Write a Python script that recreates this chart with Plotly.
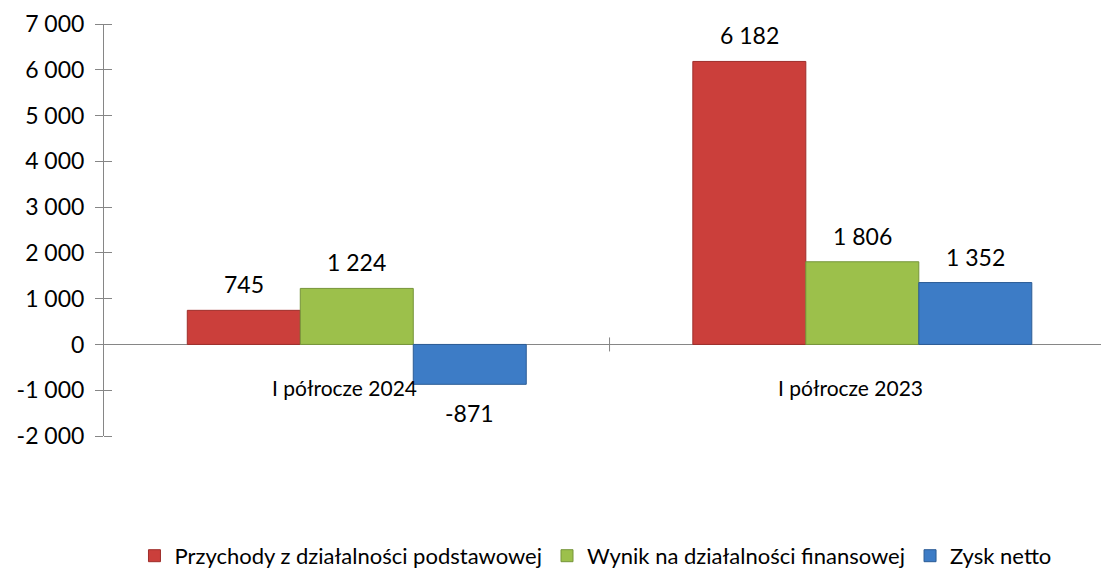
import plotly.graph_objects as go

categories = ["I półrocze 2024", "I półrocze 2023"]
series_names = ["Przychody z działalności podstawowej", "Wynik na działalności finansowej", "Zysk netto"]
przychody = [745, 6182]
wynik = [1224, 1806]
zysk = [-871, 1352]
y_ticks = [-2000, -1000, 0, 1000, 2000, 3000, 4000, 5000, 6000, 7000]

values = [przychody, wynik, zysk]
colors = ["#CB3F3B", "#9CC04B", "#3D7CC6"]
edges = ["#9E2E2B", "#76953A", "#2C5C95"]

def fmt(v):
    return f"{v:,}".replace(",", " ")

FONT = "Lato, Open Sans, sans-serif"
bar_w = 0.2235
offsets = [-bar_w, 0, bar_w]
xs = list(range(len(categories)))

fig = go.Figure()
for name, vals, c, e, off in zip(series_names, values, colors, edges, offsets):
    fig.add_trace(go.Bar(
        name=name, x=xs, y=vals, width=bar_w, offset=off - bar_w / 2,
        marker=dict(color=c, line=dict(color=e, width=1)),
    ))
    for xi, v in zip(xs, vals):
        fig.add_annotation(
            x=xi + off, y=v, text=fmt(v), showarrow=False,
            yshift=26 if v >= 0 else -29, xref="x", yref="y",
            font=dict(family=FONT, size=23, color="#000000"),
        )

for xi, cat in zip(xs, categories):
    fig.add_annotation(
        x=xi - 0.024, y=0, text=cat, showarrow=False, yshift=-43,
        font=dict(family=FONT, size=21, color="#000000"),
    )

fig.add_shape(type="line", xref="x", yref="y", x0=0.5, x1=0.5,
              ysizemode="pixel", yanchor=0, y0=-7, y1=7,
              line=dict(color="#868686", width=1))

fig.update_layout(
    width=1101, height=560,
    margin=dict(l=96, r=2, t=16, b=132, autoexpand=False),
    paper_bgcolor="white", plot_bgcolor="white",
    barmode="overlay",
    showlegend=True,
    legend=dict(orientation="h", x=0.49, xanchor="center", y=-0.291, yanchor="middle",
                font=dict(family=FONT, size=22, color="#000000"),
                itemwidth=30, traceorder="normal"),
    xaxis=dict(range=[-0.5, 1.484], showticklabels=False, showgrid=False,
               zeroline=False, showline=False, ticks=""),
    yaxis=dict(range=[-2000, 7000], tickvals=y_ticks,
               ticktext=[fmt(t) for t in y_ticks],
               showgrid=False, zeroline=True, zerolinecolor="#868686", zerolinewidth=1,
               showline=True, linecolor="#868686", linewidth=1,
               ticks="outside", ticklen=8, tickcolor="#868686",
               minor=dict(ticks="inside", tickvals=y_ticks, ticklen=8,
                          tickcolor="#868686", showgrid=False),
               ticklabelstandoff=6, automargin=False,
               tickfont=dict(family=FONT, size=23, color="#000000")),
)

fig.write_html("out.html")
